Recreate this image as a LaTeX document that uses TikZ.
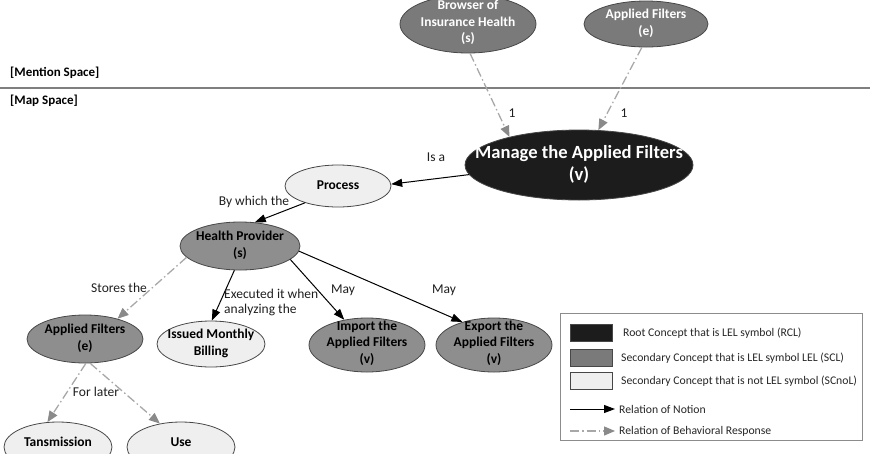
\documentclass[tikz,border=0pt]{standalone}
\usepackage{fontspec}
\setmainfont{Carlito}
\usetikzlibrary{shapes.geometric,arrows.meta}
\definecolor{rootc}{HTML}{1C1C1C}
\definecolor{secc}{HTML}{8E8E8E}
\definecolor{topc}{HTML}{7A7A7A}
\definecolor{lightc}{HTML}{EFEFEF}
\definecolor{edgec}{HTML}{474747}
\definecolor{behc}{HTML}{A8A8A8}
\definecolor{behhead}{HTML}{8A8A8A}
\definecolor{sepc}{HTML}{7F7F7F}
% text of fixed-size ellipses: a box of no size, so the ellipse keeps its own size
\newcommand\ctext[2][0pt]{\makebox[0pt]{\raisebox{\dimexpr-0.25em+#1\relax}[0pt][0pt]{\begin{tabular}{@{}c@{}}#2\end{tabular}}}}
\begin{document}
\begin{tikzpicture}[x=1pt,y=-1pt,
  concept/.style={ellipse, draw=edgec, line width=0.8pt, inner sep=0pt,
    font=\fontsize{13.5}{16.5}\selectfont\bfseries},
  rootnode/.style={concept, fill=rootc, text=white, font=\fontsize{18.6}{22}\selectfont\bfseries},
  topnode/.style={concept, fill=topc, text=white},
  secnode/.style={concept, fill=secc},
  lightnode/.style={concept, fill=lightc},
  notion/.style={draw=black, line width=1pt, -{Triangle[length=11pt,width=8pt]}},
  behav/.style={draw=behc, line width=1.3pt, dash pattern=on 9pt off 3pt on 1.5pt off 3pt,
    -{Triangle[length=11pt,width=9pt,color=behhead]}},
  elabel/.style={font=\fontsize{13.5}{15}\selectfont, text=black!88, inner sep=0pt},
  spacelabel/.style={font=\fontsize{13}{15}\selectfont\bfseries, anchor=west, inner sep=0pt},
  swatch/.style={draw=edgec, line width=0.8pt, minimum width=42pt, minimum height=17pt, inner sep=0pt},
  legtext/.style={font=\fontsize{11.7}{14}\selectfont, text=black!85, anchor=west, inner sep=0pt},
]
\useasboundingbox (0,0) rectangle (870,453);

% space separator
\coordinate (sepL) at (0,88);
\coordinate (sepR) at (870,88);
\draw[sepc, line width=1.2pt] (sepL) -- (sepR);
\node[spacelabel] (mention) at (10,73) {[Mention Space]};
\node[spacelabel] (mapsp) at (10,101) {[Map Space]};

% concepts
\node[topnode, minimum width=136pt, minimum height=58pt] (brow) at (468,24) {\ctext[1pt]{Browser of\\Insurance Health\\(s)}};
\node[topnode, minimum width=124pt, minimum height=46pt] (apt) at (646,24) {\ctext{Applied Filters\\(e)}};
\node[rootnode, minimum width=228pt, minimum height=70pt] (mng) at (579,165) {\ctext{Manage the Applied Filters\\(v)}};
\node[lightnode, minimum width=106pt, minimum height=42pt] (proc) at (338,186) {\ctext{Process}};
\node[secnode, minimum width=120pt, minimum height=48pt] (hp) at (240,246) {\ctext{Health Provider\\(s)}};
\node[secnode, minimum width=116pt, minimum height=48pt] (ape) at (85,339) {\ctext{Applied Filters\\(e)}};
\node[lightnode, minimum width=108pt, minimum height=46pt] (iss) at (211,344) {\ctext{Issued Monthly\\Billing}};
\node[secnode, minimum width=116pt, minimum height=54pt] (imp) at (367,345) {\ctext[1.5pt]{Import the\\Applied Filters\\(v)}};
\node[secnode, minimum width=116pt, minimum height=54pt] (exp) at (494,345) {\ctext[1.5pt]{Export the\\Applied Filters\\(v)}};
\node[lightnode, minimum width=108pt, minimum height=50pt] (tan) at (58,447) {\ctext[4pt]{Tansmission}};
\node[lightnode, minimum width=108pt, minimum height=50pt] (use) at (181,447) {\ctext[4pt]{Use}};

% connectors
\draw[behav] (brow.-86) -- (mng.158);
\draw[behav] (apt.-100) -- (mng.61);
\draw[notion] (mng.185) -- (proc.2);
\draw[notion] (proc.207) -- (hp.58);
\draw[behav] (hp.192) -- (ape.32);
\draw[notion] (hp.-103) -- (iss.88);
\draw[notion] (hp.-15) -- (imp.132);
\draw[notion] (hp.-5) -- (exp.144);
\draw[behav] (ape.-88) -- (tan.113);
\draw[behav] (ape.-78) -- (use.132);

% connector labels
\node[elabel] (lb1) at (512,113) {1};
\node[elabel] (lb2) at (624,113) {1};
\node[elabel] (lisa) at (436,157) {Is a};
\node[elabel] (lwhich) at (254,202) {By which the};
\node[elabel] (lstores) at (119,288) {Stores the};
\node[elabel, anchor=west, align=left] (lexec) at (224,302) {Executed it when\\analyzing the};
\node[elabel] (lmay1) at (343,290) {May};
\node[elabel] (lmay2) at (444,290) {May};
\node[elabel] (llater) at (96,392) {For later};

% legend
\node[draw=black!45, line width=0.8pt, minimum width=302pt, minimum height=127pt, anchor=north west, inner sep=0pt] (legend) at (560,313) {};
\node[swatch, fill=rootc] (sw1) at (591,333) {};
\node[swatch, fill=topc] (sw2) at (591,358) {};
\node[swatch, fill=lightc] (sw3) at (591,381) {};
\node[legtext] (lt1) at (623,333) {Root Concept that is LEL symbol (RCL)};
\node[legtext] (lt2) at (621,358) {Secondary Concept that is LEL symbol LEL (SCL)};
\node[legtext] (lt3) at (621,381) {Secondary Concept that is not LEL symbol (SCnoL)};
\coordinate (la1s) at (570,409);
\coordinate (la1e) at (615,409);
\draw[notion] (la1s) -- (la1e);
\node[legtext] (lt4) at (619,409) {Relation of Notion};
\coordinate (la2s) at (570,431);
\coordinate (la2e) at (615,431);
\draw[behav] (la2s) -- (la2e);
\node[legtext] (lt5) at (619,431) {Relation of Behavioral Response};
\end{tikzpicture}
\end{document}
